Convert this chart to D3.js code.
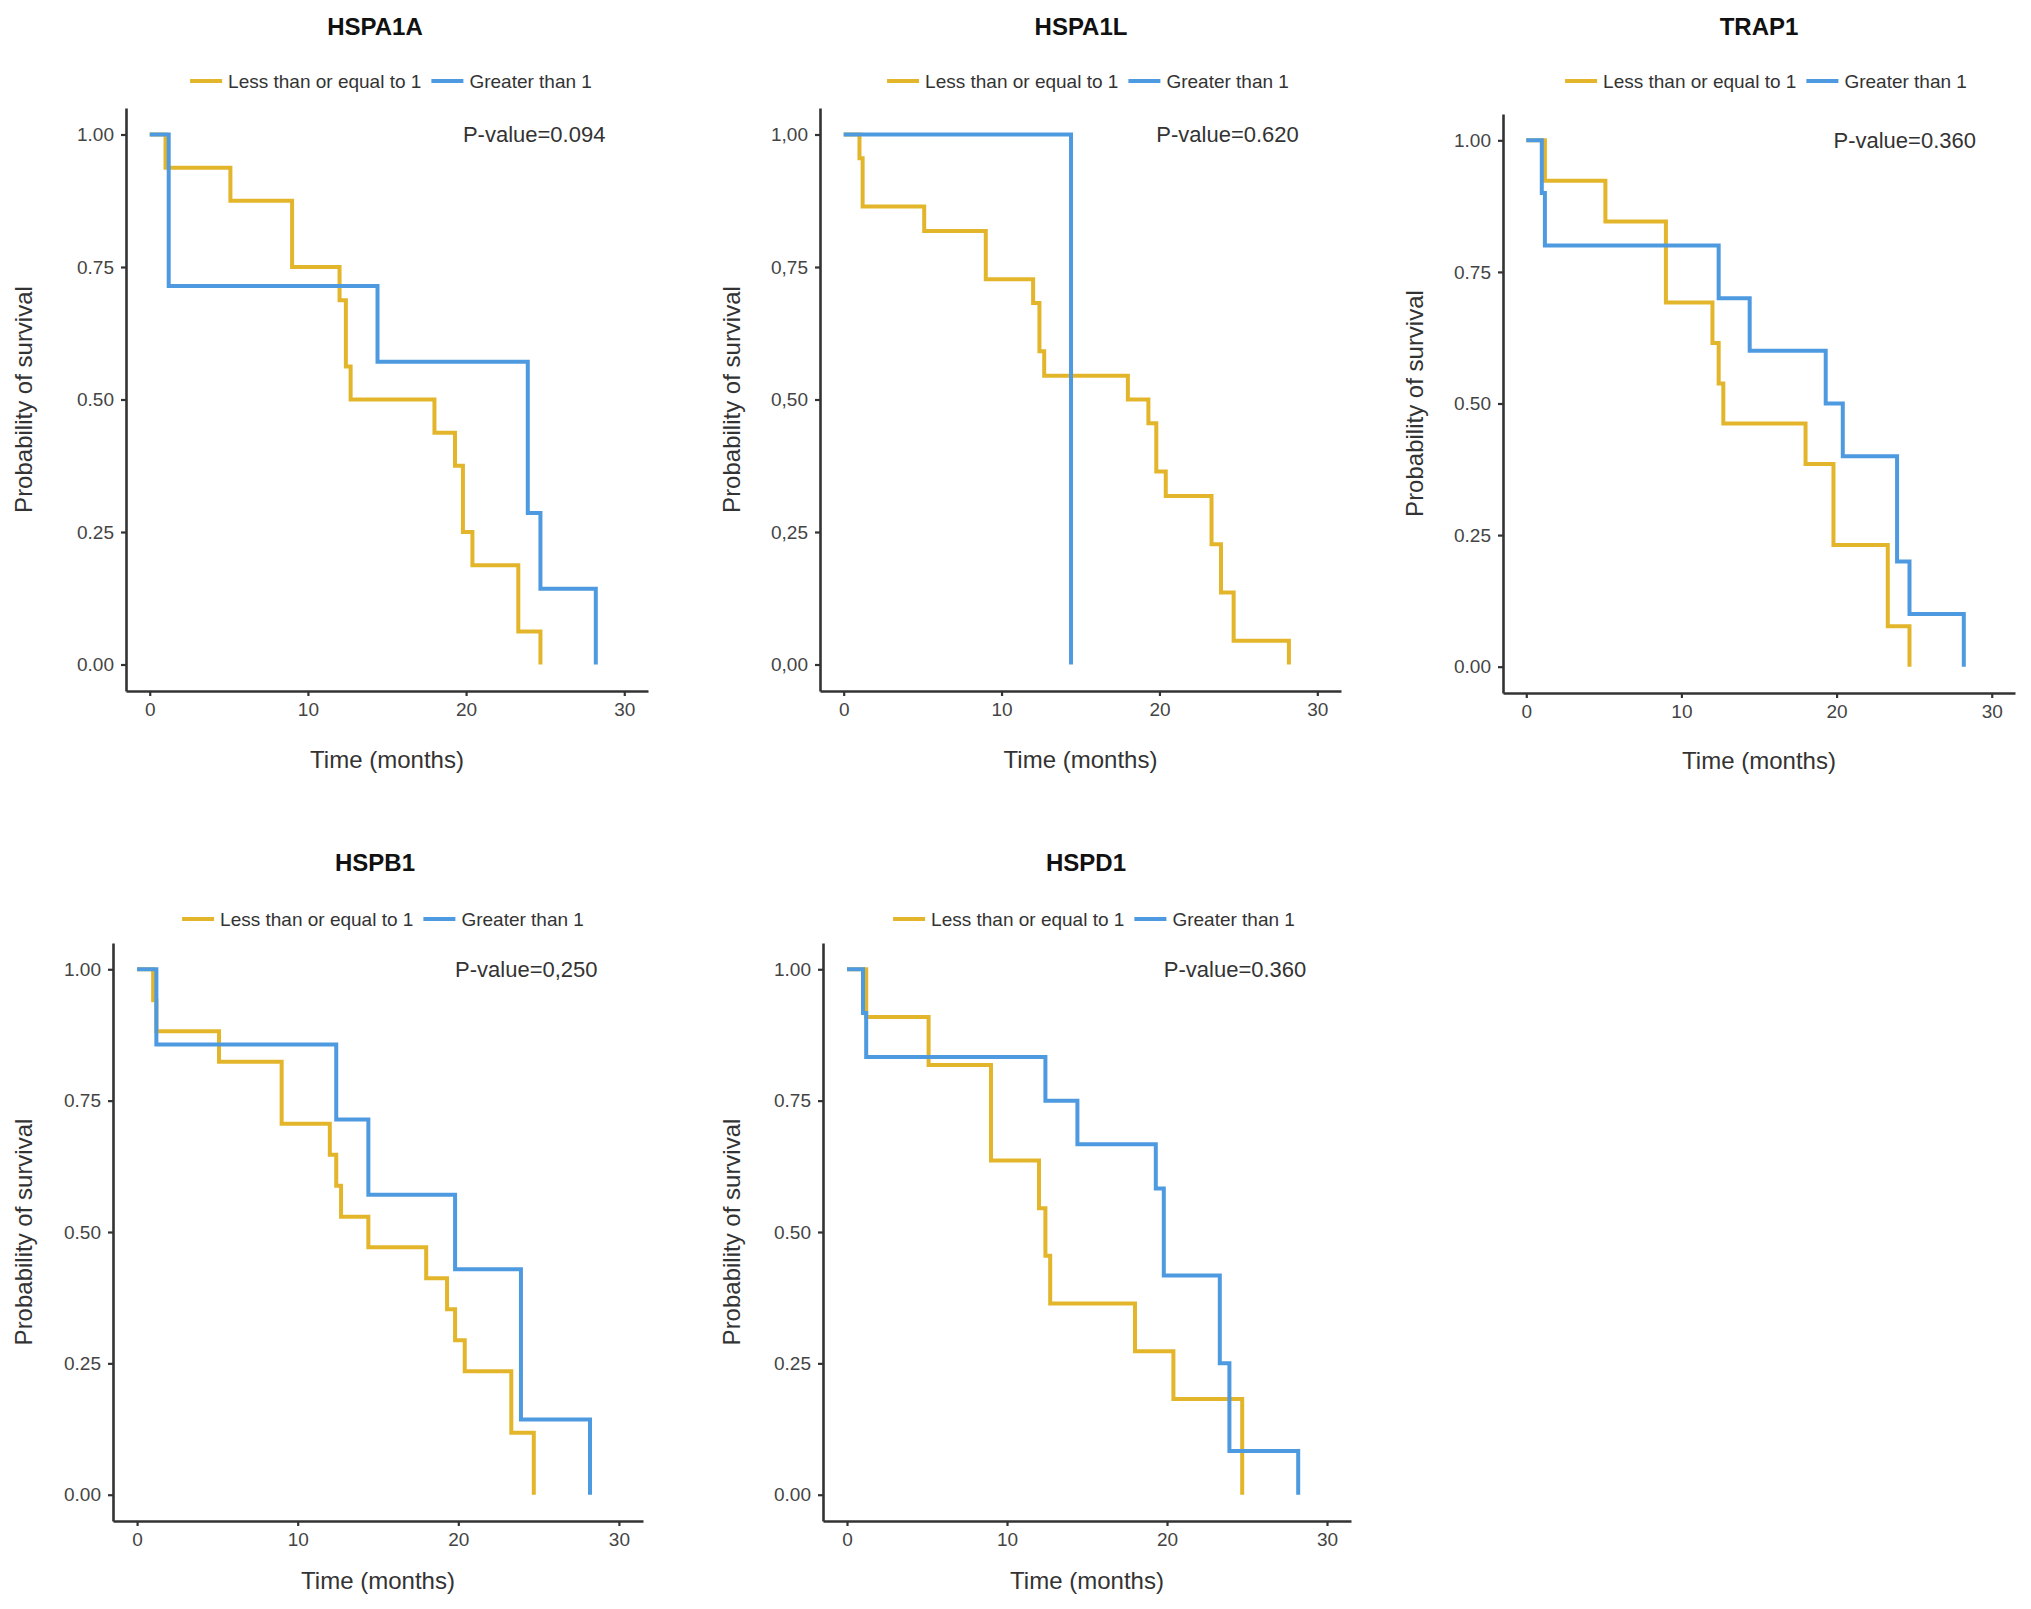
<!DOCTYPE html>
<html>
<head>
<meta charset="UTF-8">
<title>Survival curves</title>
<script src="https://cdn.jsdelivr.net/npm/d3@7"></script>
<style>
  body { margin: 0; background: #fff; }
  text { font-family: "Liberation Sans", Arial, sans-serif; }
</style>
</head>
<body>
<script>
// ---- data ----
var genes = ["HSPA1A", "HSPA1L", "TRAP1", "HSPB1", "HSPD1"];
var pValues = ["P-value=0.094", "P-value=0.620", "P-value=0.360", "P-value=0,250", "P-value=0.360"];
var groupNames = ["Less than or equal to 1", "Greater than 1"];
var groupColors = ["#E3B52B", "#4E9AE0"];
var xTicks = [0, 10, 20, 30];
var yTicks = [0, 0.25, 0.5, 0.75, 1];
var yLabelsDot = ["0.00", "0.25", "0.50", "0.75", "1.00"];
var yLabelsComma = ["0,00", "0,25", "0,50", "0,75", "1,00"];

// [time in months, survival probability]
var hspa1aLow = [[0,1],[1.0,0.9375],[5.1,0.875],[9.0,0.75],[12.0,0.6875],[12.4,0.5625],[12.7,0.5],[18.0,0.4375],[19.3,0.375],[19.8,0.25],[20.4,0.1875],[23.3,0.0625],[24.7,0]];
var hspa1aHigh = [[0,1],[1.2,0.714],[14.4,0.571],[23.9,0.286],[24.7,0.143],[28.2,0]];

var hspa1lLow = [[0,1],[1.0,0.955],[1.2,0.864],[5.1,0.818],[9.0,0.727],[12.0,0.682],[12.4,0.591],[12.7,0.545],[18.0,0.5],[19.3,0.455],[19.8,0.364],[20.4,0.318],[23.3,0.227],[23.9,0.136],[24.7,0.045],[28.2,0]];
var hspa1lHigh = [[0,1],[14.4,0]];

var trap1Low = [[0,1],[1.2,0.923],[5.1,0.846],[9.0,0.692],[12.0,0.615],[12.4,0.538],[12.7,0.462],[18.0,0.385],[19.8,0.231],[23.3,0.077],[24.7,0]];
var trap1High = [[0,1],[1.0,0.9],[1.2,0.8],[12.4,0.7],[14.4,0.6],[19.3,0.5],[20.4,0.4],[23.9,0.2],[24.7,0.1],[28.2,0]];

var hspb1Low = [[0,1],[1.0,0.941],[1.2,0.882],[5.1,0.824],[9.0,0.706],[12.0,0.647],[12.4,0.588],[12.7,0.529],[14.4,0.471],[18.0,0.412],[19.3,0.353],[19.8,0.294],[20.4,0.235],[23.3,0.118],[24.7,0]];
var hspb1High = [[0,1],[1.2,0.857],[12.4,0.714],[14.4,0.571],[19.8,0.429],[23.9,0.143],[28.2,0]];

var hspd1Low = [[0,1],[1.2,0.909],[5.1,0.818],[9.0,0.636],[12.0,0.545],[12.4,0.455],[12.7,0.364],[18.0,0.273],[20.4,0.182],[24.7,0]];
var hspd1High = [[0,1],[1.0,0.917],[1.2,0.833],[12.4,0.75],[14.4,0.667],[19.3,0.583],[19.8,0.417],[23.3,0.25],[23.9,0.083],[28.2,0]];

var curves = [
  [hspa1aLow, hspa1aHigh],
  [hspa1lLow, hspa1lHigh],
  [trap1Low, trap1High],
  [hspb1Low, hspb1High],
  [hspd1Low, hspd1High]
];

// ---- layout of the five panels (pixels) ----
var panels = [
  {left: 126, right: 648, top: 108, bottom: 691, titleX: 375, titleY: 26, legX: 391, legY: 81, yTitleX: 23, xTitleY: 759, comma: false},
  {left: 820, right: 1341, top: 108, bottom: 691, titleX: 1081, titleY: 26, legX: 1088, legY: 81, yTitleX: 731, xTitleY: 759, comma: true},
  {left: 1503, right: 2015, top: 114, bottom: 693, titleX: 1759, titleY: 26, legX: 1766, legY: 81, yTitleX: 1414, xTitleY: 760, comma: false},
  {left: 113, right: 643, top: 943, bottom: 1521, titleX: 375, titleY: 862, legX: 383, legY: 919, yTitleX: 23, xTitleY: 1580, comma: false},
  {left: 823, right: 1351, top: 943, bottom: 1521, titleX: 1086, titleY: 862, legX: 1094, legY: 919, yTitleX: 731, xTitleY: 1580, comma: false}
];

var svg = d3.select("body").append("svg")
  .attr("width", 2031)
  .attr("height", 1609);

svg.append("rect").attr("width", 2031).attr("height", 1609).attr("fill", "#fff");

panels.forEach(function(p, i) {
  var g = svg.append("g");

  var x = d3.scaleLinear().domain([-1.5, 31.5]).range([p.left, p.right]);
  var y = d3.scaleLinear().domain([-0.05, 1.05]).range([p.bottom, p.top]);

  // title
  g.append("text")
    .attr("x", p.titleX).attr("y", p.titleY)
    .attr("text-anchor", "middle").attr("dominant-baseline", "central")
    .attr("font-size", 24).attr("font-weight", "bold").attr("fill", "#111")
    .text(genes[i]);

  // legend
  var leg = g.append("g");
  var cursor = 0;
  groupNames.forEach(function(name, k) {
    leg.append("line")
      .attr("x1", cursor).attr("x2", cursor + 32)
      .attr("y1", 0).attr("y2", 0)
      .attr("stroke", groupColors[k]).attr("stroke-width", 4);
    var t = leg.append("text")
      .attr("x", cursor + 38).attr("y", 0)
      .attr("dominant-baseline", "central")
      .attr("font-size", 19).attr("fill", "#333")
      .text(name);
    cursor += 38 + t.node().getComputedTextLength() + 10;
  });
  var legW = cursor - 10;
  leg.attr("transform", "translate(" + (p.legX - legW / 2) + "," + p.legY + ")");

  // axes
  var yAxis = d3.axisLeft(y)
    .tickValues(yTicks)
    .tickFormat(function(d, k) { return (p.comma ? yLabelsComma : yLabelsDot)[k]; })
    .tickSizeOuter(0).tickSizeInner(5).tickPadding(7);
  var xAxis = d3.axisBottom(x)
    .tickValues(xTicks)
    .tickSizeOuter(0).tickSizeInner(5).tickPadding(7);

  var ya = g.append("g").attr("transform", "translate(" + p.left + ",0)").call(yAxis);
  var xa = g.append("g").attr("transform", "translate(0," + p.bottom + ")").call(xAxis);
  [ya, xa].forEach(function(a) {
    a.select(".domain").attr("stroke", "#333").attr("stroke-width", 2.6);
    a.selectAll(".tick line").attr("stroke", "#333").attr("stroke-width", 2.2);
    a.selectAll(".tick text")
      .attr("font-size", 19).attr("fill", "#444")
      .style("font-family", "'Liberation Sans', Arial, sans-serif");
  });

  // axis titles
  g.append("text")
    .attr("x", (x(0) + x(30)) / 2).attr("y", p.xTitleY)
    .attr("text-anchor", "middle").attr("dominant-baseline", "central")
    .attr("font-size", 24).attr("fill", "#333")
    .text("Time (months)");
  g.append("text")
    .attr("transform", "translate(" + p.yTitleX + "," + (p.top + p.bottom) / 2 + ") rotate(-90)")
    .attr("text-anchor", "middle").attr("dominant-baseline", "central")
    .attr("font-size", 24).attr("fill", "#333")
    .text("Probability of survival");

  // survival curves
  var line = d3.line()
    .x(function(d) { return x(d[0]); })
    .y(function(d) { return y(d[1]); })
    .curve(d3.curveStepAfter);
  curves[i].forEach(function(c, k) {
    g.append("path")
      .datum(c)
      .attr("d", line)
      .attr("fill", "none")
      .attr("stroke", groupColors[k])
      .attr("stroke-width", 4);
  });

  // p-value
  g.append("text")
    .attr("x", x(19.8)).attr("y", y(1))
    .attr("dominant-baseline", "central")
    .attr("font-size", 22).attr("fill", "#333")
    .text(pValues[i]);
});
</script>
</body>
</html>
